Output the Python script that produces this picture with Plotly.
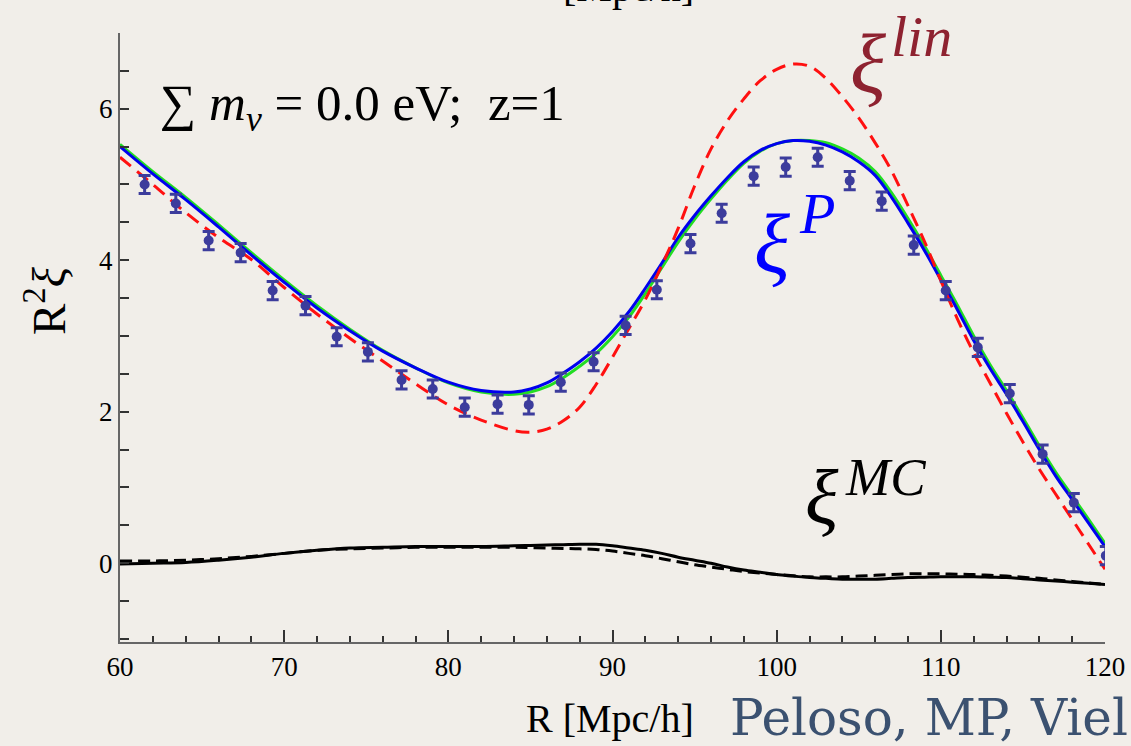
import plotly.graph_objects as go

# ---------------- data ----------------
R_points = [61.5, 63.4, 65.4, 67.35, 69.3, 71.3, 73.2, 75.1, 77.15, 79.05, 81.0, 83.0, 84.9, 86.85,
            88.85, 90.8, 92.7, 94.75, 96.65, 98.6, 100.55, 102.5, 104.45, 106.4, 108.35, 110.3,
            112.25, 114.2, 116.2, 118.1, 120.05]
xi_points = [5.00, 4.75, 4.26, 4.10, 3.60, 3.40, 2.99, 2.79, 2.42, 2.30, 2.06, 2.10, 2.09, 2.39,
             2.66, 3.14, 3.61, 4.22, 4.62, 5.11, 5.23, 5.36, 5.05, 4.78, 4.20, 3.60,
             2.85, 2.24, 1.44, 0.80, 0.10]
xi_err = [0.12, 0.12, 0.12, 0.12, 0.12, 0.12, 0.12, 0.12, 0.12, 0.12, 0.12, 0.12, 0.12, 0.12,
          0.12, 0.12, 0.12, 0.12, 0.12, 0.12, 0.12, 0.12, 0.12, 0.12, 0.12, 0.12,
          0.12, 0.12, 0.12, 0.12, 0.12]

R_curve = [60, 62, 64, 66, 68, 70, 72, 74, 76, 78, 80, 82, 84, 85, 86, 87, 88, 89, 90, 91, 92, 93,
           94, 95, 96, 97, 98, 99, 100, 101, 102, 103, 104, 105, 106, 107, 108, 109, 110, 111,
           112, 113, 114, 115, 116, 117, 118, 119, 120]
xi_P = [5.50, 5.14, 4.80, 4.44, 4.07, 3.71, 3.37, 3.07, 2.80, 2.58, 2.39, 2.28, 2.26, 2.30, 2.38,
        2.51, 2.66, 2.84, 3.06, 3.32, 3.63, 3.96, 4.30, 4.59, 4.85, 5.09, 5.30, 5.45, 5.54, 5.58,
        5.57, 5.52, 5.43, 5.30, 5.12, 4.83, 4.49, 4.13, 3.74, 3.35, 2.94, 2.57, 2.23, 1.87, 1.50,
        1.15, 0.84, 0.53, 0.22]
xi_green = [5.53, 5.17, 4.83, 4.47, 4.10, 3.74, 3.40, 3.09, 2.81, 2.58, 2.38, 2.26, 2.23, 2.26,
            2.33, 2.45, 2.60, 2.77, 2.99, 3.25, 3.56, 3.90, 4.24, 4.54, 4.81, 5.06, 5.28, 5.44,
            5.54, 5.58, 5.58, 5.55, 5.47, 5.35, 5.17, 4.89, 4.55, 4.19, 3.80, 3.41, 3.00, 2.62,
            2.28, 1.92, 1.55, 1.20, 0.89, 0.58, 0.26]
xi_lin = [5.36, 5.00, 4.63, 4.30, 4.01, 3.64, 3.29, 2.97, 2.67, 2.37, 2.09, 1.89, 1.75, 1.73,
          1.77, 1.88, 2.06, 2.36, 2.72, 3.10, 3.48, 3.93, 4.42, 4.98, 5.47, 5.84, 6.13, 6.37,
          6.52, 6.59, 6.56, 6.40, 6.16, 5.88, 5.55, 5.18, 4.72, 4.25, 3.73, 3.23, 2.78, 2.38,
          1.98, 1.60, 1.24, 0.91, 0.58, 0.25, -0.08]
xi_MC = [-0.01, 0.00, 0.01, 0.04, 0.08, 0.13, 0.17, 0.20, 0.21, 0.22, 0.22, 0.22, 0.23, 0.235,
         0.24, 0.245, 0.25, 0.25, 0.23, 0.20, 0.17, 0.13, 0.08, 0.04, 0.00, -0.05, -0.09, -0.12,
         -0.15, -0.17, -0.19, -0.20, -0.21, -0.21, -0.21, -0.20, -0.19, -0.185, -0.18, -0.18,
         -0.18, -0.185, -0.19, -0.205, -0.22, -0.235, -0.25, -0.265, -0.28]
xi_MC_dash = [0.03, 0.03, 0.04, 0.06, 0.09, 0.13, 0.17, 0.19, 0.20, 0.21, 0.21, 0.21, 0.21, 0.205,
              0.20, 0.195, 0.19, 0.18, 0.16, 0.13, 0.10, 0.06, 0.02, -0.02, -0.05, -0.08, -0.11,
              -0.13, -0.15, -0.165, -0.18, -0.18, -0.18, -0.17, -0.16, -0.15, -0.14, -0.14,
              -0.14, -0.145, -0.15, -0.16, -0.17, -0.185, -0.20, -0.22, -0.24, -0.26, -0.28]

x_ticks = [60, 70, 80, 90, 100, 110, 120]
y_ticks = [0, 2, 4, 6]

# ---------------- figure ----------------
W, H = 1131, 746
L, Rm, T, B = 120, 26, 33, 104
BG = "#f1eee9"
SERIF = "Liberation Serif, Times New Roman, serif"


def px(xp):
    return (xp - L) / (W - L - Rm)


def py(yp):
    return (H - B - yp) / (H - B - T)


fig = go.Figure()

fig.add_trace(go.Scatter(x=R_curve, y=xi_green, mode="lines",
                         line=dict(color="#22dd22", width=3, shape="spline"),
                         showlegend=False, hoverinfo="skip"))
fig.add_trace(go.Scatter(x=R_curve, y=xi_P, mode="lines", line=dict(color="#0000ee", width=3, shape="spline"),
                         showlegend=False))
fig.add_trace(go.Scatter(x=R_curve, y=xi_lin, mode="lines",
                         line=dict(color="#ff1010", width=3, dash="14px,8px", shape="spline"),
                         showlegend=False))
fig.add_trace(go.Scatter(x=R_curve, y=xi_MC_dash, mode="lines",
                         line=dict(color="black", width=3, dash="12px,6px", shape="spline"),
                         showlegend=False))
fig.add_trace(go.Scatter(x=R_curve, y=xi_MC, mode="lines", line=dict(color="black", width=3, shape="spline"),
                         showlegend=False))
fig.add_trace(go.Scatter(x=R_points, y=xi_points, mode="markers",
                         marker=dict(color="#3c3c9c", size=10),
                         error_y=dict(type="data", array=xi_err, color="#3c3c9c", thickness=3, width=6),
                         showlegend=False))


def label(xp, yp, text, size, color, xanchor="left", yanchor="middle", family=SERIF, angle=0):
    return dict(x=px(xp), y=py(yp), xref="paper", yref="paper", xanchor=xanchor, yanchor=yanchor,
                text=text, showarrow=False, textangle=angle,
                font=dict(family=family, size=size, color=color))


ann = [
    label(158, 107, "∑ <i>m</i><sub><i>ν</i></sub> = 0.0 eV;  z=1", 51, "black"),
    # xi^lin
    label(848, 63, "<i>ξ</i>", 84, "#8e2230"),
    label(889, 36, "<i>lin</i>", 58, "#8e2230"),
    # xi^P
    label(752, 243, "<i>ξ</i>", 84, "#0000ff"),
    label(797, 214, "<i>P</i>", 58, "#0000ff"),
    # xi^MC
    label(803, 497, "<i>ξ</i>", 78, "black"),
    label(843, 477, "<i>MC</i>", 53, "black"),
    # axis titles
    label(610, 718, "R [Mpc/h]", 40, "black", xanchor="center"),
    label(45, 301, "R<sup>2</sup><i>ξ</i>", 47, "black", xanchor="center", angle=-90),
    label(728, 718, "Peloso, MP, Viel", 50, "#3b5170", family="DejaVu Serif, serif"),
    label(628, 12, "[Mpc/h]", 40, "black", xanchor="center", yanchor="bottom"),
]

fig.update_layout(
    width=W, height=H, autosize=False,
    margin=dict(l=L, r=Rm, t=T, b=B, autoexpand=False),
    paper_bgcolor=BG, plot_bgcolor=BG,
    annotations=ann,
    xaxis=dict(range=[60, 120], automargin=False, showgrid=False, zeroline=False, showline=True,
               linecolor="#666666", linewidth=2, ticks="inside", ticklen=12, tickwidth=1.5,
               tickcolor="#333333", tickvals=x_ticks, ticktext=[str(v) for v in x_ticks],
               tickfont=dict(family=SERIF, size=27, color="black"),
               minor=dict(dtick=2, ticklen=6, tickwidth=1.5, tickcolor="#333333", ticks="inside", showgrid=False)),
    yaxis=dict(range=[-1.04, 7], automargin=False, showgrid=False, zeroline=False, showline=True,
               linecolor="#666666", linewidth=2, ticks="inside", ticklen=9, tickwidth=1.5,
               tickcolor="#333333", tickvals=y_ticks, ticktext=[str(v) for v in y_ticks],
               tickfont=dict(family=SERIF, size=27, color="black"),
               minor=dict(dtick=0.5, ticklen=9, tickwidth=1.5, tickcolor="#333333", ticks="inside", showgrid=False)),
)

fig.write_html("out.html")
